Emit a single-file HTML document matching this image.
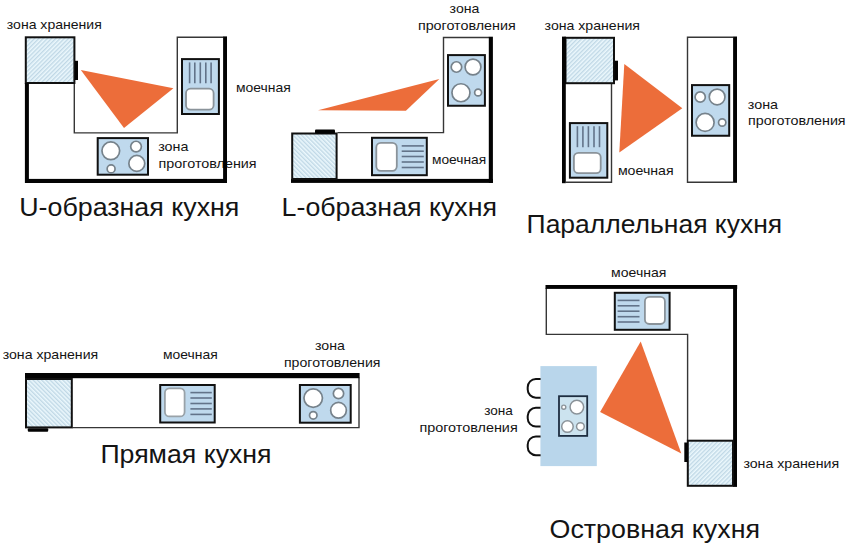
<!DOCTYPE html>
<html><head><meta charset="utf-8">
<style>
html,body{margin:0;padding:0;background:#fff;width:850px;height:548px;overflow:hidden}
svg{display:block}
text{font-family:"Liberation Sans",sans-serif;fill:#141414}
.s{font-size:13px}
.h{font-size:26px}
</style></head><body>
<svg width="850" height="548" viewBox="0 0 850 548">
<defs>
<pattern id="hf" patternUnits="userSpaceOnUse" width="3" height="10" patternTransform="rotate(45)">
<rect width="3" height="10" fill="#ecf8fd"/><rect width="1.4" height="10" fill="#c0d8e6"/></pattern>
<pattern id="hb" patternUnits="userSpaceOnUse" width="3" height="10" patternTransform="rotate(-45)">
<rect width="3" height="10" fill="#ecf8fd"/><rect width="1.4" height="10" fill="#c0d8e6"/></pattern>
</defs>
<text class="s" x="6.80" y="29.40" textLength="95.00" lengthAdjust="spacingAndGlyphs">зона хранения</text>
<text class="s" x="158.20" y="151.00" textLength="30.20" lengthAdjust="spacingAndGlyphs">зона</text>
<text class="s" x="158.60" y="167.60" textLength="98.00" lengthAdjust="spacingAndGlyphs">проготовления</text>
<text class="s" x="236.00" y="92.00" textLength="54.80" lengthAdjust="spacingAndGlyphs">моечная</text>
<polyline points="74.3,83.5 74.3,132.9 177.3,132.9 177.3,37.2 223.5,37.2" fill="none" stroke="#363636" stroke-width="1.4"/>
<rect x="25.80" y="37.30" width="48.60" height="45.70" fill="url(#hf)" stroke="#111" stroke-width="2.0"/>
<rect x="75.00" y="60.80" width="3.00" height="19.20" fill="#030303"/>
<rect x="24.90" y="83.00" width="4.00" height="100.00" fill="#030303"/>
<rect x="25.00" y="178.90" width="202.00" height="4.10" fill="#030303"/>
<rect x="223.10" y="36.40" width="3.90" height="146.60" fill="#030303"/>
<polygon points="80.8,69.9 173.4,88.2 124,127.9" fill="#ec6d3a"/>
<rect x="182.00" y="59.10" width="36.90" height="54.90" fill="#bfd9ed" stroke="#111" stroke-width="2.0"/>
<line x1="189.6" y1="62.4" x2="189.6" y2="83.3" stroke="#627389" stroke-width="1.6"/>
<line x1="194.8" y1="62.4" x2="194.8" y2="83.3" stroke="#627389" stroke-width="1.6"/>
<line x1="200.3" y1="62.4" x2="200.3" y2="83.3" stroke="#627389" stroke-width="1.6"/>
<line x1="205.8" y1="62.4" x2="205.8" y2="83.3" stroke="#627389" stroke-width="1.6"/>
<line x1="211.1" y1="62.4" x2="211.1" y2="83.3" stroke="#627389" stroke-width="1.6"/>
<rect x="186.00" y="88.70" width="27.60" height="21.00" rx="4.5" fill="#fff" stroke="#8a939a" stroke-width="1.8"/>
<rect x="97.70" y="138.10" width="50.30" height="36.60" fill="#bfd9ed" stroke="#111" stroke-width="2.0"/>
<circle cx="110.80" cy="150.80" r="8.85" fill="#fff" stroke="#76828b" stroke-width="1.7"/>
<circle cx="111.10" cy="168.90" r="3.95" fill="#fff" stroke="#76828b" stroke-width="1.7"/>
<circle cx="136.05" cy="146.60" r="5.35" fill="#fff" stroke="#76828b" stroke-width="1.7"/>
<circle cx="136.80" cy="163.40" r="7.95" fill="#fff" stroke="#76828b" stroke-width="1.7"/>
<text class="h" x="19.20" y="215.50" textLength="220.20" lengthAdjust="spacingAndGlyphs">U-образная кухня</text>
<text class="s" x="449.60" y="12.90" textLength="29.80" lengthAdjust="spacingAndGlyphs">зона</text>
<text class="s" x="417.90" y="29.50" textLength="97.85" lengthAdjust="spacingAndGlyphs">проготовления</text>
<text class="s" x="431.95" y="164.10" textLength="54.20" lengthAdjust="spacingAndGlyphs">моечная</text>
<polyline points="337.5,132.6 443.5,132.6 443.5,37.45 489.0,37.45" fill="none" stroke="#363636" stroke-width="1.4"/>
<rect x="488.80" y="36.70" width="4.10" height="146.20" fill="#030303"/>
<rect x="291.00" y="178.90" width="201.90" height="4.00" fill="#030303"/>
<rect x="292.20" y="133.50" width="44.40" height="45.50" fill="url(#hb)" stroke="#111" stroke-width="2.0"/>
<rect x="315.00" y="129.50" width="20.00" height="4.00" fill="#030303" rx="1"/>
<polygon points="318,110.3 405.9,110.8 439.4,79" fill="#ec6d3a"/>
<rect x="372.00" y="137.80" width="54.80" height="37.40" fill="#bfd9ed" stroke="#111" stroke-width="2.0"/>
<rect x="376.30" y="142.90" width="20.50" height="27.95" rx="4.5" fill="#fff" stroke="#8a939a" stroke-width="1.8"/>
<line x1="401.7" y1="145.9" x2="423.8" y2="145.9" stroke="#627389" stroke-width="1.6"/>
<line x1="401.7" y1="151.2" x2="423.8" y2="151.2" stroke="#627389" stroke-width="1.6"/>
<line x1="401.7" y1="156.5" x2="423.8" y2="156.5" stroke="#627389" stroke-width="1.6"/>
<line x1="401.7" y1="162.0" x2="423.8" y2="162.0" stroke="#627389" stroke-width="1.6"/>
<line x1="401.7" y1="167.5" x2="423.8" y2="167.5" stroke="#627389" stroke-width="1.6"/>
<rect x="448.00" y="55.10" width="36.90" height="50.65" fill="#bfd9ed" stroke="#111" stroke-width="2.0"/>
<circle cx="456.45" cy="67.00" r="5.25" fill="#fff" stroke="#76828b" stroke-width="1.7"/>
<circle cx="473.00" cy="66.95" r="7.90" fill="#fff" stroke="#76828b" stroke-width="1.7"/>
<circle cx="460.95" cy="92.75" r="9.00" fill="#fff" stroke="#76828b" stroke-width="1.7"/>
<circle cx="478.10" cy="92.50" r="3.45" fill="#fff" stroke="#76828b" stroke-width="1.7"/>
<text class="h" x="281.60" y="215.50" textLength="215.40" lengthAdjust="spacingAndGlyphs">L-образная кухня</text>
<text class="s" x="544.60" y="29.80" textLength="95.40" lengthAdjust="spacingAndGlyphs">зона хранения</text>
<text class="s" x="617.90" y="174.80" textLength="55.70" lengthAdjust="spacingAndGlyphs">моечная</text>
<text class="s" x="747.80" y="108.80" textLength="30.20" lengthAdjust="spacingAndGlyphs">зона</text>
<text class="s" x="748.00" y="125.40" textLength="97.60" lengthAdjust="spacingAndGlyphs">проготовления</text>
<polyline points="611.5,84.0 611.5,182.2 566,182.2" fill="none" stroke="#363636" stroke-width="1.4"/>
<rect x="565.50" y="37.80" width="48.50" height="45.40" fill="url(#hf)" stroke="#111" stroke-width="2.0"/>
<rect x="562.00" y="36.60" width="3.80" height="146.60" fill="#030303"/>
<rect x="614.50" y="60.70" width="3.50" height="19.70" fill="#030303"/>
<rect x="569.90" y="123.10" width="37.40" height="54.60" fill="#bfd9ed" stroke="#111" stroke-width="2.0"/>
<line x1="577.4" y1="126.2" x2="577.4" y2="147.2" stroke="#627389" stroke-width="1.6"/>
<line x1="582.9" y1="126.2" x2="582.9" y2="147.2" stroke="#627389" stroke-width="1.6"/>
<line x1="588.4" y1="126.2" x2="588.4" y2="147.2" stroke="#627389" stroke-width="1.6"/>
<line x1="594.0" y1="126.2" x2="594.0" y2="147.2" stroke="#627389" stroke-width="1.6"/>
<line x1="599.5" y1="126.2" x2="599.5" y2="147.2" stroke="#627389" stroke-width="1.6"/>
<rect x="573.90" y="152.80" width="26.80" height="20.40" rx="4.5" fill="#fff" stroke="#8a939a" stroke-width="1.8"/>
<polygon points="624.3,63.9 682.3,108.3 619.3,152.6" fill="#ec6d3a"/>
<polyline points="733.2,37.3 687.5,37.3 687.5,182.3 733.2,182.3" fill="none" stroke="#363636" stroke-width="1.4"/>
<rect x="733.10" y="36.50" width="3.90" height="146.30" fill="#030303"/>
<rect x="692.00" y="85.10" width="37.20" height="50.65" fill="#bfd9ed" stroke="#111" stroke-width="2.0"/>
<circle cx="700.20" cy="97.00" r="5.10" fill="#fff" stroke="#76828b" stroke-width="1.7"/>
<circle cx="717.10" cy="96.95" r="7.85" fill="#fff" stroke="#76828b" stroke-width="1.7"/>
<circle cx="705.10" cy="122.40" r="9.00" fill="#fff" stroke="#76828b" stroke-width="1.7"/>
<circle cx="722.20" cy="122.55" r="3.65" fill="#fff" stroke="#76828b" stroke-width="1.7"/>
<text class="h" x="526.60" y="232.80" textLength="255.60" lengthAdjust="spacingAndGlyphs">Параллельная кухня</text>
<text class="s" x="2.70" y="359.20" textLength="95.50" lengthAdjust="spacingAndGlyphs">зона хранения</text>
<text class="s" x="163.00" y="359.20" textLength="54.70" lengthAdjust="spacingAndGlyphs">моечная</text>
<text class="s" x="315.00" y="350.20" textLength="29.90" lengthAdjust="spacingAndGlyphs">зона</text>
<text class="s" x="283.95" y="367.30" textLength="96.50" lengthAdjust="spacingAndGlyphs">проготовления</text>
<polyline points="72.5,427.6 359.0,427.6 359.0,377.5" fill="none" stroke="#363636" stroke-width="1.4"/>
<rect x="25.00" y="373.00" width="334.60" height="5.20" fill="#030303"/>
<rect x="26.00" y="379.00" width="45.80" height="48.40" fill="url(#hb)" stroke="#111" stroke-width="2.0"/>
<rect x="27.80" y="428.30" width="20.40" height="3.40" fill="#030303" rx="1"/>
<rect x="160.20" y="385.00" width="54.50" height="37.50" fill="#bfd9ed" stroke="#111" stroke-width="2.0"/>
<rect x="164.90" y="388.30" width="19.70" height="28.10" rx="4.5" fill="#fff" stroke="#99a2a8" stroke-width="1.8"/>
<line x1="190.4" y1="392.6" x2="211.8" y2="392.6" stroke="#627389" stroke-width="1.6"/>
<line x1="190.4" y1="398.0" x2="211.8" y2="398.0" stroke="#627389" stroke-width="1.6"/>
<line x1="190.4" y1="403.5" x2="211.8" y2="403.5" stroke="#627389" stroke-width="1.6"/>
<line x1="190.4" y1="408.9" x2="211.8" y2="408.9" stroke="#627389" stroke-width="1.6"/>
<line x1="190.4" y1="414.4" x2="211.8" y2="414.4" stroke="#627389" stroke-width="1.6"/>
<rect x="299.90" y="385.00" width="50.80" height="37.70" fill="#bfd9ed" stroke="#111" stroke-width="2.0"/>
<circle cx="313.20" cy="398.10" r="9.25" fill="#fff" stroke="#76828b" stroke-width="1.7"/>
<circle cx="313.25" cy="415.30" r="3.75" fill="#fff" stroke="#76828b" stroke-width="1.7"/>
<circle cx="338.50" cy="393.50" r="5.15" fill="#fff" stroke="#76828b" stroke-width="1.7"/>
<circle cx="338.50" cy="410.30" r="7.85" fill="#fff" stroke="#76828b" stroke-width="1.7"/>
<text class="h" x="100.40" y="462.50" textLength="171.20" lengthAdjust="spacingAndGlyphs">Прямая кухня</text>
<text class="s" x="611.10" y="277.00" textLength="55.30" lengthAdjust="spacingAndGlyphs">моечная</text>
<text class="s" x="484.15" y="414.80" textLength="28.70" lengthAdjust="spacingAndGlyphs">зона</text>
<text class="s" x="419.40" y="432.10" textLength="98.30" lengthAdjust="spacingAndGlyphs">проготовления</text>
<text class="s" x="743.40" y="468.10" textLength="95.70" lengthAdjust="spacingAndGlyphs">зона хранения</text>
<polyline points="546.3,288 546.3,334.4 687.6,334.4 687.6,440.5" fill="none" stroke="#363636" stroke-width="1.4"/>
<rect x="545.50" y="285.00" width="191.70" height="3.90" fill="#030303"/>
<rect x="733.10" y="285.00" width="3.90" height="201.90" fill="#030303"/>
<rect x="614.80" y="292.80" width="54.80" height="37.00" fill="#bfd9ed" stroke="#111" stroke-width="2.0"/>
<line x1="617.6" y1="300.4" x2="639.5" y2="300.4" stroke="#627389" stroke-width="1.6"/>
<line x1="617.6" y1="305.8" x2="639.5" y2="305.8" stroke="#627389" stroke-width="1.6"/>
<line x1="617.6" y1="311.2" x2="639.5" y2="311.2" stroke="#627389" stroke-width="1.6"/>
<line x1="617.6" y1="316.7" x2="639.5" y2="316.7" stroke="#627389" stroke-width="1.6"/>
<line x1="617.6" y1="322.0" x2="639.5" y2="322.0" stroke="#627389" stroke-width="1.6"/>
<rect x="644.90" y="296.90" width="20.00" height="27.10" rx="4.5" fill="#fff" stroke="#8a939a" stroke-width="1.8"/>
<rect x="687.80" y="440.70" width="45.20" height="45.10" fill="url(#hf)" stroke="#111" stroke-width="2.0"/>
<rect x="684.30" y="442.50" width="3.50" height="19.50" fill="#030303"/>
<polygon points="640.7,341.4 600.1,412.0 681.3,453.6" fill="#ec6d3a"/>
<rect x="540.4" y="366.1" width="56.4" height="100" fill="#b9d6eb"/>
<rect x="559.00" y="396.20" width="28.20" height="39.70" fill="#cce3ef" stroke="#1d2d40" stroke-width="1.8"/>
<circle cx="563.75" cy="407.15" r="2.05" fill="#fff" stroke="#8b9399" stroke-width="1.4"/>
<circle cx="576.85" cy="407.10" r="6.80" fill="#fff" stroke="#8b9399" stroke-width="1.5"/>
<circle cx="567.45" cy="426.60" r="5.75" fill="#fff" stroke="#8b9399" stroke-width="1.5"/>
<circle cx="580.40" cy="426.60" r="3.85" fill="#fff" stroke="#8b9399" stroke-width="1.5"/>
<g fill="none" stroke="#111" stroke-width="2">
<path d="M540.6,379.00 H535.9000000000001 A8.2,8.2 0 0 0 527.7,387.20 V389.50 A8.2,8.2 0 0 0 535.9000000000001,397.70 H540.6"/>
<path d="M540.6,407.85 H535.9000000000001 A8.2,8.2 0 0 0 527.7,416.05 V418.35 A8.2,8.2 0 0 0 535.9000000000001,426.55 H540.6"/>
<path d="M540.6,436.45 H535.9000000000001 A8.2,8.2 0 0 0 527.7,444.65 V446.95 A8.2,8.2 0 0 0 535.9000000000001,455.15 H540.6"/>
</g>
<text class="h" x="549.60" y="538.10" textLength="210.40" lengthAdjust="spacingAndGlyphs">Островная кухня</text>
</svg>
</body></html>
